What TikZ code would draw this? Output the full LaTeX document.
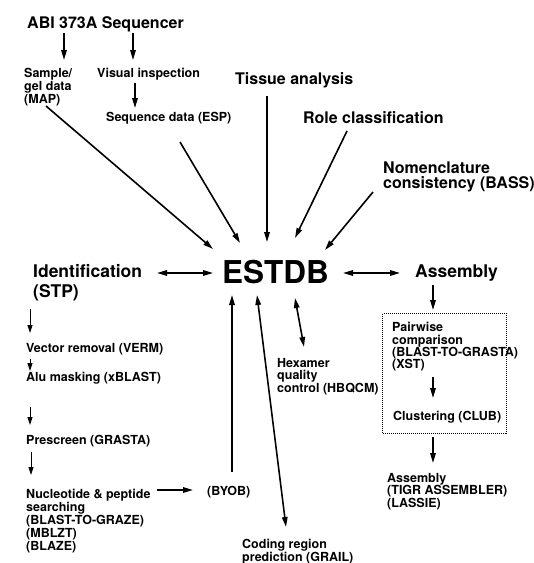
\documentclass[tikz,border=0pt]{standalone}
\usepackage{fontspec}
\setmainfont{TeX Gyre Heros}
\usetikzlibrary{arrows.meta}
\begin{document}
\begin{tikzpicture}[x=1pt,y=-1pt,
  small/.style={font=\fontsize{12.5}{12.3}\selectfont\bfseries, inner sep=0pt, align=left, anchor=north west},
  smallL/.style={small, font=\fontsize{12.5}{10.8}\selectfont\bfseries},
  title/.style={font=\fontsize{16}{14.5}\selectfont\bfseries, inner sep=0pt, align=left, anchor=north west},
  bigtitle/.style={font=\fontsize{17.5}{20}\selectfont\bfseries, inner sep=0pt, align=left, anchor=north west},
  arr/.style={-{Triangle[length=10pt,width=5.5pt]}, line width=1.6pt},
  darr/.style={{Triangle[length=10pt,width=5.5pt]}-{Triangle[length=10pt,width=5.5pt]}, line width=1.6pt},
  thinarr/.style={-{Triangle[length=8pt,width=5pt]}, line width=0.9pt},
  dotbox/.style={draw, line width=1pt, dash pattern=on 1pt off 1pt}
]
\useasboundingbox[fill=white] (0,0) rectangle (534,563);

% titles
\node[title] (abi) at (27,16) {ABI 373A Sequencer};
\node[title] (tissue) at (235,72) {Tissue analysis};
\node[title] (role) at (303,111) {Role classification};
\node[title] (nomen) at (383,162) {Nomenclature\\consistency (BASS)};
\node[bigtitle] (ident) at (33,264.5) {Identification\\(STP)};
\node[bigtitle] (asm) at (415,264.5) {Assembly};
\node[font=\fontsize{31.5}{31.5}\selectfont\bfseries, inner sep=0pt, anchor=base west] (estdb) at (222,283.5) {ESTDB};

% small labels
\node[smallL] (sample) at (24,68.3) {Sample/\\gel data\\(MAP)};
\node[small] (visual) at (97,68.3) {Visual inspection};
\node[small] (seq) at (106,112.3) {Sequence data (ESP)};
\node[small] (vector) at (26,343.3) {Vector removal (VERM)};
\node[small] (alu) at (26,372.3) {Alu masking (xBLAST)};
\node[small] (pre) at (26,435.3) {Prescreen (GRASTA)};
\node[smallL] (nucl) at (26,489.3) {Nucleotide \& peptide\\searching\\(BLAST-TO-GRAZE)\\(MBLZT)\\(BLAZE)};
\node[small] (byob) at (207,486.3) {(BYOB)};
\node[small] (grail) at (242,539.3) {Coding region\\prediction (GRAIL)};
\node[small] (hex) at (277,358.3) {Hexamer\\quality\\control (HBQCM)};
\node[small] (pair) at (392,322.3) {Pairwise\\comparison\\(BLAST-TO-GRASTA)\\(XST)};
\node[small] (club) at (393,411.3) {Clustering (CLUB)};
\node[small] (tigr) at (387,473.3) {Assembly\\(TIGR ASSEMBLER)\\(LASSIE)};

% dotted box
\node[dotbox, minimum width=124pt, minimum height=120pt, anchor=north west, inner sep=0pt] (box) at (382,313) {};

% connector end points
\coordinate (abiA) at (64,33);   \coordinate (sampleT) at (64,60);
\coordinate (abiB) at (133,33);  \coordinate (visualT) at (133,60);
\coordinate (visualB) at (135,83); \coordinate (seqT) at (135,108);
\coordinate (sampleB) at (46,106); \coordinate (eMap) at (213,249);
\coordinate (seqB) at (180,142); \coordinate (eSeq) at (240,243);
\coordinate (tissueB) at (267,96); \coordinate (eTis) at (267,242);
\coordinate (roleB) at (347,131); \coordinate (eRole) at (295,238);
\coordinate (nomenB) at (373,192); \coordinate (eNom) at (325,250);
\coordinate (identR) at (157,273); \coordinate (eL) at (213,273);
\coordinate (eR) at (343,273); \coordinate (asmL) at (400,273);
\coordinate (asmB) at (433,285); \coordinate (pairT) at (433,310);
\coordinate (pairB) at (433,377); \coordinate (clubT) at (433,398);
\coordinate (boxB) at (433,437); \coordinate (tigrT) at (433,463);
\coordinate (eHex) at (295,298); \coordinate (hexT) at (304,347);
\coordinate (eGrail) at (257,295); \coordinate (grailT) at (286,527);
\coordinate (byobT) at (232,472); \coordinate (eByob) at (232,295);
\coordinate (nuclR) at (157,490); \coordinate (byobL) at (193,490);
\coordinate (identB) at (30,309); \coordinate (vectorT) at (30,333);
\coordinate (vectorB) at (30,359); \coordinate (aluT) at (30,371);
\coordinate (aluB) at (30,407); \coordinate (preT) at (30,425);
\coordinate (preB) at (31,452); \coordinate (nuclT) at (31,475);

% connectors
\draw[arr] (abiA) -- (sampleT);
\draw[arr] (abiB) -- (visualT);
\draw[arr] (visualB) -- (seqT);
\draw[arr] (sampleB) -- (eMap);
\draw[arr] (seqB) -- (eSeq);
\draw[arr] (tissueB) -- (eTis);
\draw[arr] (roleB) -- (eRole);
\draw[arr] (nomenB) -- (eNom);
\draw[darr] (identR) -- (eL);
\draw[darr] (eR) -- (asmL);
\draw[arr] (asmB) -- (pairT);
\draw[arr] (pairB) -- (clubT);
\draw[arr] (boxB) -- (tigrT);
\draw[darr] (eHex) -- (hexT);
\draw[darr] (eGrail) -- (grailT);
\draw[arr] (byobT) -- (eByob);
\draw[arr] (nuclR) -- (byobL);
\draw[thinarr] (identB) -- (vectorT);
\draw[thinarr] (vectorB) -- (aluT);
\draw[thinarr] (aluB) -- (preT);
\draw[thinarr] (preB) -- (nuclT);
\end{tikzpicture}
\end{document}
